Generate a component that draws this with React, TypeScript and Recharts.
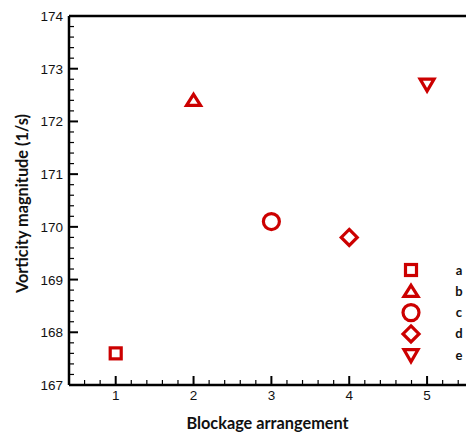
import React from 'react';
import { ScatterChart, Scatter, XAxis, YAxis, ReferenceLine, Legend, Label } from 'recharts';

// Blockage arrangement index and the vorticity magnitude measured for each case
const arrangements = [1, 2, 3, 4, 5];
const vorticity = [167.6, 172.4, 170.1, 169.8, 172.7];
const caseNames = ['a', 'b', 'c', 'd', 'e'];
const markerKinds = ['square', 'triangle', 'circle', 'diamond', 'triangleDown'];

const xMajorTicks = [1, 2, 3, 4, 5];
const yMajorTicks = [167, 168, 169, 170, 171, 172, 173, 174];

const RED = '#cc0000';
const W = 466;
const H = 434;

const xTicks: number[] = [];
for (let i = 2; i <= 27; i++) xTicks.push(Math.round(i * 2) / 10);
const yTicks: number[] = [];
for (let i = 0; i <= 35; i++) yTicks.push(Math.round((167 + i * 0.2) * 10) / 10);

const isMajor = (v: number, majors: number[]) => majors.some((m) => Math.abs(m - v) < 1e-6);

function Marker({ kind, cx, cy }: { kind: string; cx: number; cy: number }) {
  const common = { fill: 'none', stroke: RED, strokeWidth: 3.2, strokeLinejoin: 'miter' as const };
  switch (kind) {
    case 'square':
      return <rect x={cx - 5.5} y={cy - 5.5} width={11} height={11} {...common} />;
    case 'triangle':
      return <polygon points={`${cx},${cy - 6} ${cx + 7},${cy + 5} ${cx - 7},${cy + 5}`} {...common} />;
    case 'circle':
      return <circle cx={cx} cy={cy} r={8} {...common} />;
    case 'diamond':
      return <polygon points={`${cx},${cy - 8} ${cx + 8},${cy} ${cx},${cy + 8} ${cx - 8},${cy}`} {...common} />;
    default:
      return <polygon points={`${cx - 7},${cy - 5.5} ${cx + 7},${cy - 5.5} ${cx},${cy + 6.5}`} {...common} />;
  }
}

const XTick = (props: any) => {
  const { x, y, payload } = props;
  const major = isMajor(payload.value, xMajorTicks);
  return (
    <g>
      <line x1={x} x2={x} y1={y} y2={y - (major ? 9 : 5)} stroke="#000" strokeWidth={major ? 2 : 1.2} />
      {major && (
        <text x={x} y={y + 15} textAnchor="middle" fontSize={13.5} fill="#111" fontFamily="'Liberation Sans', Arial, sans-serif">
          {payload.value}
        </text>
      )}
    </g>
  );
};

const YTick = (props: any) => {
  const { x, y, payload } = props;
  const major = isMajor(payload.value, yMajorTicks);
  return (
    <g>
      <line x1={x} x2={x + (major ? 9 : 5)} y1={y} y2={y} stroke="#000" strokeWidth={major ? 2 : 1.2} />
      {major && (
        <text x={x - 6} y={y + 5} textAnchor="end" fontSize={13.5} fill="#111" fontFamily="'Liberation Sans', Arial, sans-serif">
          {payload.value}
        </text>
      )}
    </g>
  );
};

const LegendBox = () => (
  <svg width={70} height={112}>
    {caseNames.map((name, i) => (
      <g key={name}>
        <Marker kind={markerKinds[i]} cx={12} cy={10 + i * 21.3} />
        <text x={60} y={10 + i * 21.3 + 4.5} textAnchor="middle" fontSize={13} fontWeight="bold" fill="#111" fontFamily="Lato, sans-serif">
          {name}
        </text>
      </g>
    ))}
  </svg>
);

export default function App() {
  return (
    <div style={{ position: 'absolute', left: 0, top: 0, width: W, height: H, background: '#fff' }}>
      <ScatterChart width={W} height={H} margin={{ top: 16, right: 0, bottom: 0, left: 0 }}>
        <XAxis
          type="number"
          dataKey="x"
          domain={[0.4, 5.5]}
          ticks={xTicks}
          interval={0}
          allowDataOverflow
          height={49}
          tickSize={0}
          tickMargin={0}
          tickLine={false}
          axisLine={{ stroke: '#000', strokeWidth: 2.5 }}
          tick={<XTick />}
        >
          <Label
            content={(p: any) => {
              const vb = p.viewBox;
              return (
                <text x={vb.x + vb.width / 2} y={vb.y + 44} textAnchor="middle" fontSize={16.3} fontWeight="bold" fill="#111" fontFamily="Lato, sans-serif">
                  Blockage arrangement
                </text>
              );
            }}
          />
        </XAxis>
        <YAxis
          type="number"
          dataKey="y"
          domain={[167, 174]}
          ticks={yTicks}
          interval={0}
          allowDataOverflow
          width={69}
          tickSize={0}
          tickMargin={0}
          tickLine={false}
          axisLine={{ stroke: '#000', strokeWidth: 2.5 }}
          tick={<YTick />}
        >
          <Label
            content={(p: any) => {
              const vb = p.viewBox;
              const cx = vb.x + 21;
              const cy = vb.y + vb.height / 2 + 3;
              return (
                <text x={cx} y={cy} transform={`rotate(-90 ${cx} ${cy})`} textAnchor="middle" dominantBaseline="central" fontSize={16.3} fontWeight="bold" fill="#111" fontFamily="Lato, sans-serif">
                  Vorticity magnitude (1/s)
                </text>
              );
            }}
          />
        </YAxis>
        <ReferenceLine y={174} stroke="#000" strokeWidth={2.5} />
        {caseNames.map((name, i) => (
          <Scatter
            key={name}
            name={name}
            data={[{ x: arrangements[i], y: vorticity[i] }]}
            isAnimationActive={false}
            shape={(p: any) => <Marker kind={markerKinds[i]} cx={p.cx} cy={p.cy} />}
          />
        ))}
        <Legend
          layout="vertical"
          align="center"
          verticalAlign="middle"
          content={() => <LegendBox />}
          wrapperStyle={{ left: 399, top: 260, width: 70, height: 112 }}
        />
      </ScatterChart>
    </div>
  );
}
